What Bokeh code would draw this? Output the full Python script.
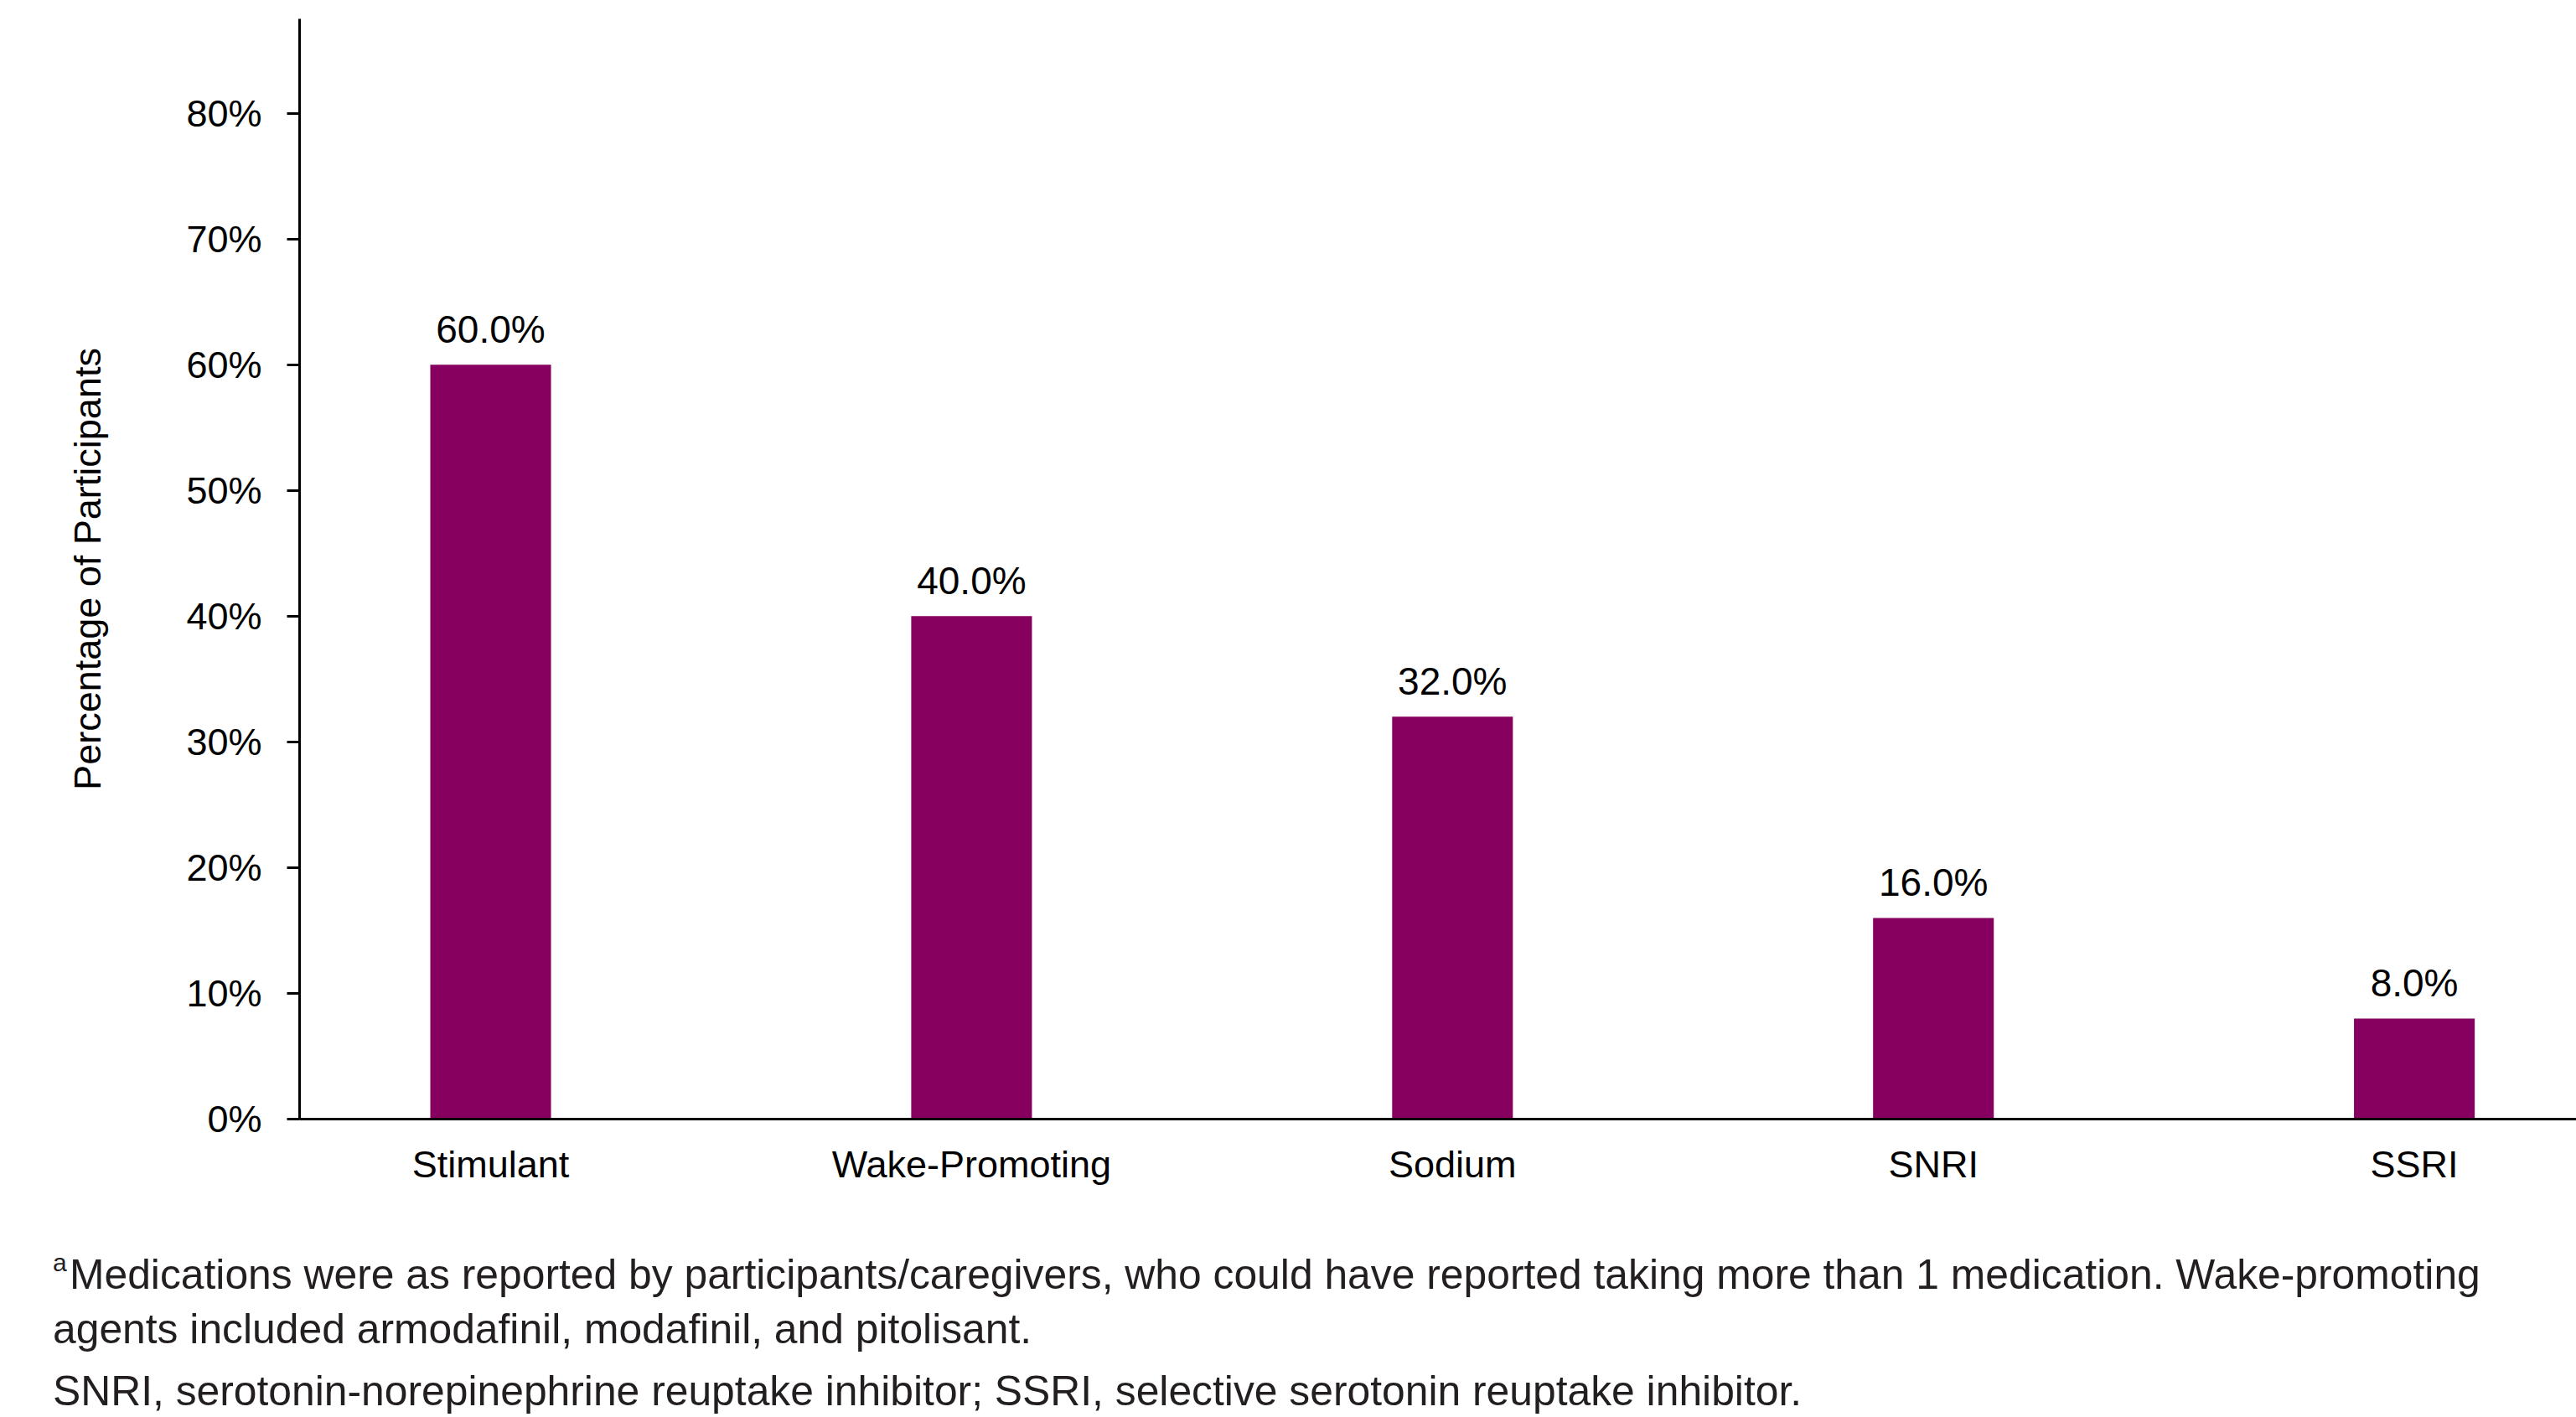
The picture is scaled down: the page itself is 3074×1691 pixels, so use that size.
from bokeh.plotting import figure
from bokeh.layouts import column
from bokeh.models import (ColumnDataSource, LabelSet, FixedTicker,
                          PrintfTickFormatter, Div)
from bokeh.core.properties import value
from bokeh.embed import file_html
from bokeh.resources import INLINE

# ---- data ----
categories = ["Stimulant", "Wake-Promoting", "Sodium", "SNRI", "SSRI"]
percentages = [60.0, 40.0, 32.0, 16.0, 8.0]
y_ticks = [0, 10, 20, 30, 40, 50, 60, 70, 80]
y_label = "Percentage of Participants"
footnote_sup = "a"
footnote_lines = [
    "Medications were as reported by participants/caregivers, who could have reported taking more than 1 medication. Wake-promoting",
    "agents included armodafinil, modafinil, and pitolisant.",
    "SNRI, serotonin-norepinephrine reuptake inhibitor; SSRI, selective serotonin reuptake inhibitor.",
]

FONT = "Liberation Sans"
BAR = "#87005F"
TXT = "#000000"
NOTE = "#231F20"
W = 3074
H1 = 1440
H2 = 250

x_idx = list(range(len(categories)))
src = ColumnDataSource(dict(
    x=x_idx,
    top=percentages,
    label=[f"{v:.1f}%" for v in percentages],
))

p = figure(width=W, height=H1, output_backend="svg", toolbar_location=None,
           x_range=(-0.3973, 4.337), y_range=(0, 87.5),
           min_border_left=357, min_border_right=0, min_border_top=22,
           min_border_bottom=H1 - 1335)
p.outline_line_color = None
p.xgrid.visible = False
p.ygrid.visible = False

p.vbar(x="x", top="top", width=0.251, source=src, fill_color=BAR, line_color=None)

labels = LabelSet(x="x", y="top", text="label", source=src, text_align="center",
                  text_baseline="alphabetic", y_offset=26, text_font=value(FONT),
                  text_font_size="46px", text_color=TXT)
p.add_layout(labels)

# y axis
ya = p.yaxis[0]
ya.ticker = FixedTicker(ticks=y_ticks)
ya.formatter = PrintfTickFormatter(format="%d%%")
ya.axis_line_width = 3
ya.axis_line_color = "black"
ya.major_tick_line_width = 3
ya.major_tick_in = 0
ya.major_tick_out = 15
ya.minor_tick_line_color = None
ya.major_label_text_font = FONT
ya.major_label_text_font_size = "45px"
ya.major_label_text_color = TXT
ya.major_label_standoff = 30
ya.axis_label = y_label
ya.axis_label_text_font = FONT
ya.axis_label_text_font_size = "45px"
ya.axis_label_text_font_style = "normal"
ya.axis_label_text_color = TXT
ya.axis_label_standoff = 89

# x axis
xa = p.xaxis[0]
xa.ticker = FixedTicker(ticks=x_idx)
xa.major_label_overrides = {i: c for i, c in zip(x_idx, categories)}
xa.axis_line_width = 3
xa.axis_line_color = "black"
xa.major_tick_line_color = None
xa.minor_tick_line_color = None
xa.major_label_text_font = FONT
xa.major_label_text_font_size = "45px"
xa.major_label_text_color = TXT
xa.major_label_standoff = 22

# ---- footnotes (HTML text below the chart) ----
FS = 49.8
ASC = 0.905
LH = round(FS * 1.117, 2)
SUP_FS = 30
line_x = [83, 63, 63]
line_baseline = [1539, 1604, 1678]   # page y of each baseline
sup_x, sup_baseline = 63, 1517

parts = [f'<div style="position:relative;width:{W}px;height:{H2}px;'
         f"font-family:'{FONT}',sans-serif;color:{NOTE};white-space:nowrap;\">"]
parts.append(f'<div style="position:absolute;left:{sup_x}px;'
             f'top:{sup_baseline - H1 - SUP_FS * ASC:.2f}px;font-size:{SUP_FS}px;'
             f'line-height:{SUP_FS * 1.117:.2f}px;">{footnote_sup}</div>')
for t, xx, bl in zip(footnote_lines, line_x, line_baseline):
    parts.append(f'<div style="position:absolute;left:{xx}px;'
                 f'top:{bl - H1 - FS * ASC:.2f}px;font-size:{FS}px;'
                 f'line-height:{LH}px;">{t}</div>')
parts.append("</div>")
notes = Div(text="".join(parts), width=W, height=H2, margin=(0, 0, 0, 0))

layout = column(p, notes, spacing=0)
open("out.html", "w").write(file_html(layout, INLINE))
